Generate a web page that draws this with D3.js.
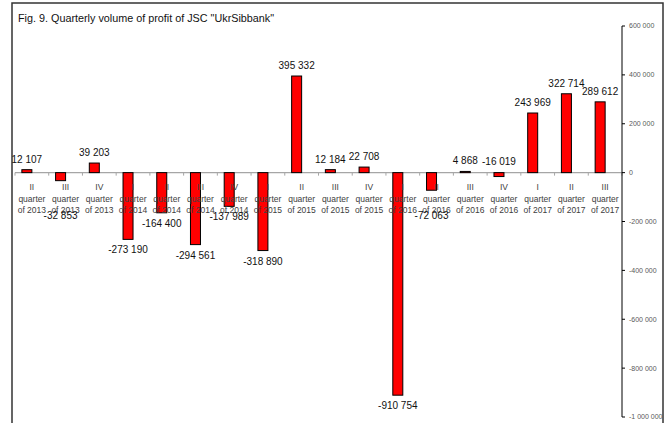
<!DOCTYPE html>
<html>
<head>
<meta charset="utf-8">
<script src="https://cdn.jsdelivr.net/npm/d3@7"></script>
<style>
  body { margin: 0; background: #fff; }
  text { font-family: "Liberation Sans", Arial, sans-serif; }
</style>
</head>
<body>
<script>
// quarters shown on the x axis (3 lines each)
var quarters = ["II", "III", "IV", "I", "II", "III", "IV", "I", "II", "III", "IV", "I", "II", "III", "IV", "I", "II", "III"];
var years = ["2013", "2013", "2013", "2014", "2014", "2014", "2014", "2015", "2015", "2015", "2015", "2016", "2016", "2016", "2016", "2017", "2017", "2017"];
// profit, thousand UAH
var profit = [12107, -32853, 39203, -273190, -164400, -294561, -137989, -318890, 395332, 12184, 22708, -910754, -72063, 4868, -16019, 243969, 322714, 289612];
var yTicks = [600000, 400000, 200000, 0, -200000, -400000, -600000, -800000, -1000000];
var title = "Fig. 9. Quarterly volume of profit of JSC \"UkrSibbank\"";

var w = 669, h = 423;

var svg = d3.select("body").append("svg")
  .attr("width", w)
  .attr("height", h);

// outer frame
svg.append("rect")
  .attr("x", 12).attr("y", 3)
  .attr("width", 651).attr("height", 440)
  .attr("fill", "none")
  .attr("stroke", "#333")
  .attr("stroke-width", 1.5);

svg.append("text")
  .attr("x", 18).attr("y", 22)
  .attr("font-size", "10.8px")
  .attr("fill", "#111")
  .text(title);

var data = profit.map(function(v, i) {
  return {q: quarters[i], year: years[i], value: v, key: i};
});

var x = d3.scaleBand()
  .domain(d3.range(data.length))
  .range([15, 622]);

var y = d3.scaleLinear()
  .domain([-1000000, 600000])
  .range([417, 26]);

var fmt = function(v) {
  return d3.format(",")(v).replace(/,/g, " ").replace("−", "-");
};

// category axis line with ticks on band edges
svg.append("line")
  .attr("x1", 15).attr("x2", 622)
  .attr("y1", y(0)).attr("y2", y(0))
  .attr("stroke", "#a6a6a6")
  .attr("stroke-width", 1.3);

svg.selectAll(".xtick")
  .data(d3.range(data.length + 1))
  .enter()
  .append("line")
  .attr("x1", function(d) { return 15 + d * x.step(); })
  .attr("x2", function(d) { return 15 + d * x.step(); })
  .attr("y1", y(0))
  .attr("y2", y(0) + 3)
  .attr("stroke", "#a6a6a6");

// bars: first slot of a two-slot cluster, so they sit left of centre
var barW = 10;
svg.selectAll(".bar")
  .data(data)
  .enter()
  .append("rect")
  .attr("x", function(d) { return x(d.key) + x.bandwidth() / 2 - barW; })
  .attr("y", function(d) { return y(Math.max(0, d.value)); })
  .attr("width", barW)
  .attr("height", function(d) { return Math.abs(y(d.value) - y(0)); })
  .attr("fill", "#ff0000")
  .attr("stroke", "#000")
  .attr("stroke-width", 1);

// category labels
var lbl = svg.selectAll(".cat")
  .data(data)
  .enter()
  .append("text")
  .attr("text-anchor", "middle")
  .attr("font-size", "8.5px")
  .attr("fill", "#404040");

lbl.append("tspan")
  .attr("x", function(d) { return x(d.key) + x.bandwidth() / 2; })
  .attr("y", 190)
  .text(function(d) { return d.q; });
lbl.append("tspan")
  .attr("x", function(d) { return x(d.key) + x.bandwidth() / 2; })
  .attr("y", 201.5)
  .text("quarter");
lbl.append("tspan")
  .attr("x", function(d) { return x(d.key) + x.bandwidth() / 2; })
  .attr("y", 212.5)
  .text(function(d) { return "of " + d.year; });

// value labels
svg.selectAll(".val")
  .data(data)
  .enter()
  .append("text")
  .attr("text-anchor", "middle")
  .attr("font-size", "10px")
  .attr("fill", "#111")
  .attr("x", function(d) { return x(d.key) + x.bandwidth() / 2 - barW / 2; })
  .attr("y", function(d) {
    if (d.value >= 0) return y(d.value) - 7;
    if (d.value > -20000) return y(0) - 8;
    return Math.max(y(d.value) + 14, 219);
  })
  .text(function(d) { return fmt(d.value); });

// value axis on the right
var yAxis = svg.append("g");
yAxis.append("line")
  .attr("x1", 622).attr("x2", 622)
  .attr("y1", y(600000)).attr("y2", y(-1000000))
  .attr("stroke", "#000");

var yt = yAxis.selectAll(".ytick")
  .data(yTicks)
  .enter()
  .append("g")
  .attr("transform", function(d) { return "translate(622," + y(d) + ")"; });

yt.append("line")
  .attr("x1", 0).attr("x2", 3)
  .attr("stroke", "#000");

yt.append("text")
  .attr("x", 7)
  .attr("dy", "0.35em")
  .attr("font-size", "7px")
  .attr("fill", "#595959")
  .text(function(d) { return fmt(d); });
</script>
</body>
</html>
